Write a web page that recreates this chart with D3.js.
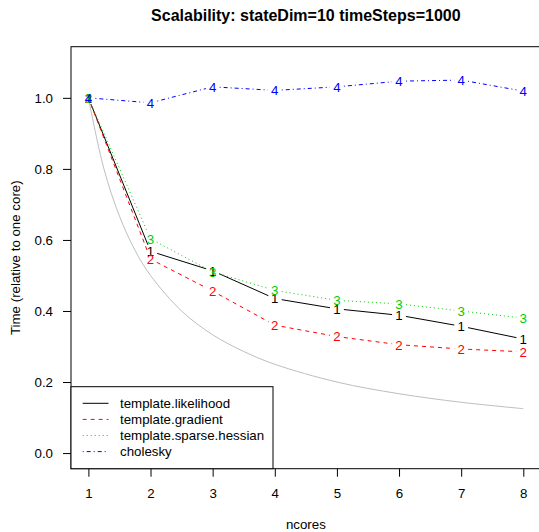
<!DOCTYPE html>
<html>
<head>
<meta charset="utf-8">
<script src="https://cdn.jsdelivr.net/npm/d3@7"></script>
<style>
  body { margin: 0; background: #fff; }
  svg { display: block; font-family: "Liberation Sans", Arial, sans-serif; }
</style>
</head>
<body>
<svg width="539" height="532"></svg>
<script>
const ncores = [1, 2, 3, 4, 5, 6, 7, 8];
const likelihood = [1.0, 0.568, 0.513, 0.435, 0.406, 0.388, 0.357, 0.321];
const gradient = [1.0, 0.546, 0.456, 0.36, 0.328, 0.305, 0.293, 0.285];
const sparseHessian = [1.0, 0.603, 0.51, 0.458, 0.43, 0.42, 0.40, 0.38];
const cholesky = [1.0, 0.986, 1.031, 1.021, 1.031, 1.047, 1.05, 1.019];
const idealCores = [1, 1.25, 1.5, 1.75, 2, 2.5, 3, 3.5, 4, 5, 6, 7, 8];
const idealTime = [1, 0.8, 0.667, 0.571, 0.5, 0.4, 0.333, 0.286, 0.25, 0.2, 0.167, 0.143, 0.125];
const xTicks = [1, 2, 3, 4, 5, 6, 7, 8];
const yTicks = [0, 0.2, 0.4, 0.6, 0.8, 1.0];
const seriesNames = ["template.likelihood", "template.gradient", "template.sparse.hessian", "cholesky"];

const root = d3.select("svg");
const box = { left: 71, top: 46.7, right: 540.7, bottom: 468.7 };
const baseFont = 13.3;

// R-style 4% padding on both axes
const x = d3.scaleLinear().domain([0.72, 8.28]).range([box.left, box.right]);
const y = d3.scaleLinear().domain([-0.044, 1.144]).range([box.bottom, box.top]);

const series = [
  { name: seriesNames[0], values: likelihood, color: "#000000", dash: null, pch: "1" },
  { name: seriesNames[1], values: gradient, color: "#ff0000", dash: "4,4", pch: "2" },
  { name: seriesNames[2], values: sparseHessian, color: "#00cd00", dash: "1,3", pch: "3" },
  { name: seriesNames[3], values: cholesky, color: "#0000ff", dash: "1,3,4,3", pch: "4" }
];

// title
root.append("text")
  .attr("x", (box.left + box.right) / 2)
  .attr("y", 15)
  .attr("dy", "0.35em")
  .attr("text-anchor", "middle")
  .attr("font-weight", "bold")
  .attr("font-size", 16)
  .text("Scalability: stateDim=10 timeSteps=1000");

// ideal 1/n curve
root.append("path")
  .datum(idealCores.map((n, i) => [n, idealTime[i]]))
  .attr("fill", "none")
  .attr("stroke", "#bebebe")
  .attr("stroke-width", 1)
  .attr("d", d3.line().x((d) => x(d[0])).y((d) => y(d[1])).curve(d3.curveCatmullRom));

// type="b": segments with gaps around the point characters
const gap = 7;
series.forEach((s) => {
  const pts = ncores.map((n, i) => [x(n), y(s.values[i])]);
  const segs = [];
  for (let i = 0; i < pts.length - 1; i++) {
    const [x0, y0] = pts[i];
    const [x1, y1] = pts[i + 1];
    const len = Math.hypot(x1 - x0, y1 - y0);
    if (len <= 2 * gap) continue;
    const ux = (x1 - x0) / len;
    const uy = (y1 - y0) / len;
    segs.push([[x0 + ux * gap, y0 + uy * gap], [x1 - ux * gap, y1 - uy * gap]]);
  }
  root.append("g").selectAll("line").data(segs).enter().append("line")
    .attr("x1", (d) => d[0][0]).attr("y1", (d) => d[0][1])
    .attr("x2", (d) => d[1][0]).attr("y2", (d) => d[1][1])
    .attr("stroke", s.color)
    .attr("stroke-width", 1)
    .attr("stroke-dasharray", s.dash);

  root.append("g").selectAll("text").data(pts).enter().append("text")
    .attr("x", (d) => d[0])
    .attr("y", (d) => d[1])
    .attr("dy", "0.36em")
    .attr("text-anchor", "middle")
    .attr("font-size", baseFont)
    .attr("fill", s.color)
    .text(s.pch);
});

// plot box
root.append("rect")
  .attr("x", box.left).attr("y", box.top)
  .attr("width", box.right - box.left).attr("height", box.bottom - box.top)
  .attr("fill", "none").attr("stroke", "#000").attr("stroke-width", 1);

// axes
const xAxis = root.append("g")
  .attr("transform", `translate(0,${box.bottom})`)
  .call(d3.axisBottom(x).tickValues(xTicks).tickFormat(d3.format("d")).tickSize(8).tickPadding(12));
const yAxis = root.append("g")
  .attr("transform", `translate(${box.left},0)`)
  .call(d3.axisLeft(y).tickValues(yTicks).tickFormat(d3.format(".1f")).tickSize(8).tickPadding(10));
[xAxis, yAxis].forEach((g) => {
  g.select(".domain").remove();
  g.selectAll("text").attr("font-size", baseFont).attr("font-family", "Liberation Sans, Arial, sans-serif").attr("fill", "#000");
  g.selectAll("line").attr("stroke", "#000");
});

// axis titles
root.append("text")
  .attr("x", (box.left + box.right) / 2)
  .attr("y", 524)
  .attr("dy", "0.35em")
  .attr("text-anchor", "middle")
  .attr("font-size", baseFont)
  .text("ncores");
root.append("text")
  .attr("transform", `translate(15,${(box.top + box.bottom) / 2}) rotate(-90)`)
  .attr("dy", "0.35em")
  .attr("text-anchor", "middle")
  .attr("font-size", baseFont)
  .text("Time (relative to one core)");

// legend (bottomleft)
const legend = root.append("g");
legend.append("rect")
  .attr("x", box.left).attr("y", 386.7)
  .attr("width", 273 - box.left).attr("height", box.bottom - 386.7)
  .attr("fill", "#fff").attr("stroke", "#000").attr("stroke-width", 1);
const rows = legend.selectAll("g.row").data(series).enter().append("g")
  .attr("class", "row")
  .attr("transform", (d, i) => `translate(0,${403.3 + i * 16.1})`);
rows.append("line")
  .attr("x1", 82.7).attr("x2", 108.5)
  .attr("stroke", (d) => d.color)
  .attr("stroke-width", 1)
  .attr("stroke-dasharray", (d) => d.dash);
rows.append("text")
  .attr("x", 120)
  .attr("dy", "0.35em")
  .attr("font-size", baseFont)
  .text((d) => d.name);
</script>
</body>
</html>
